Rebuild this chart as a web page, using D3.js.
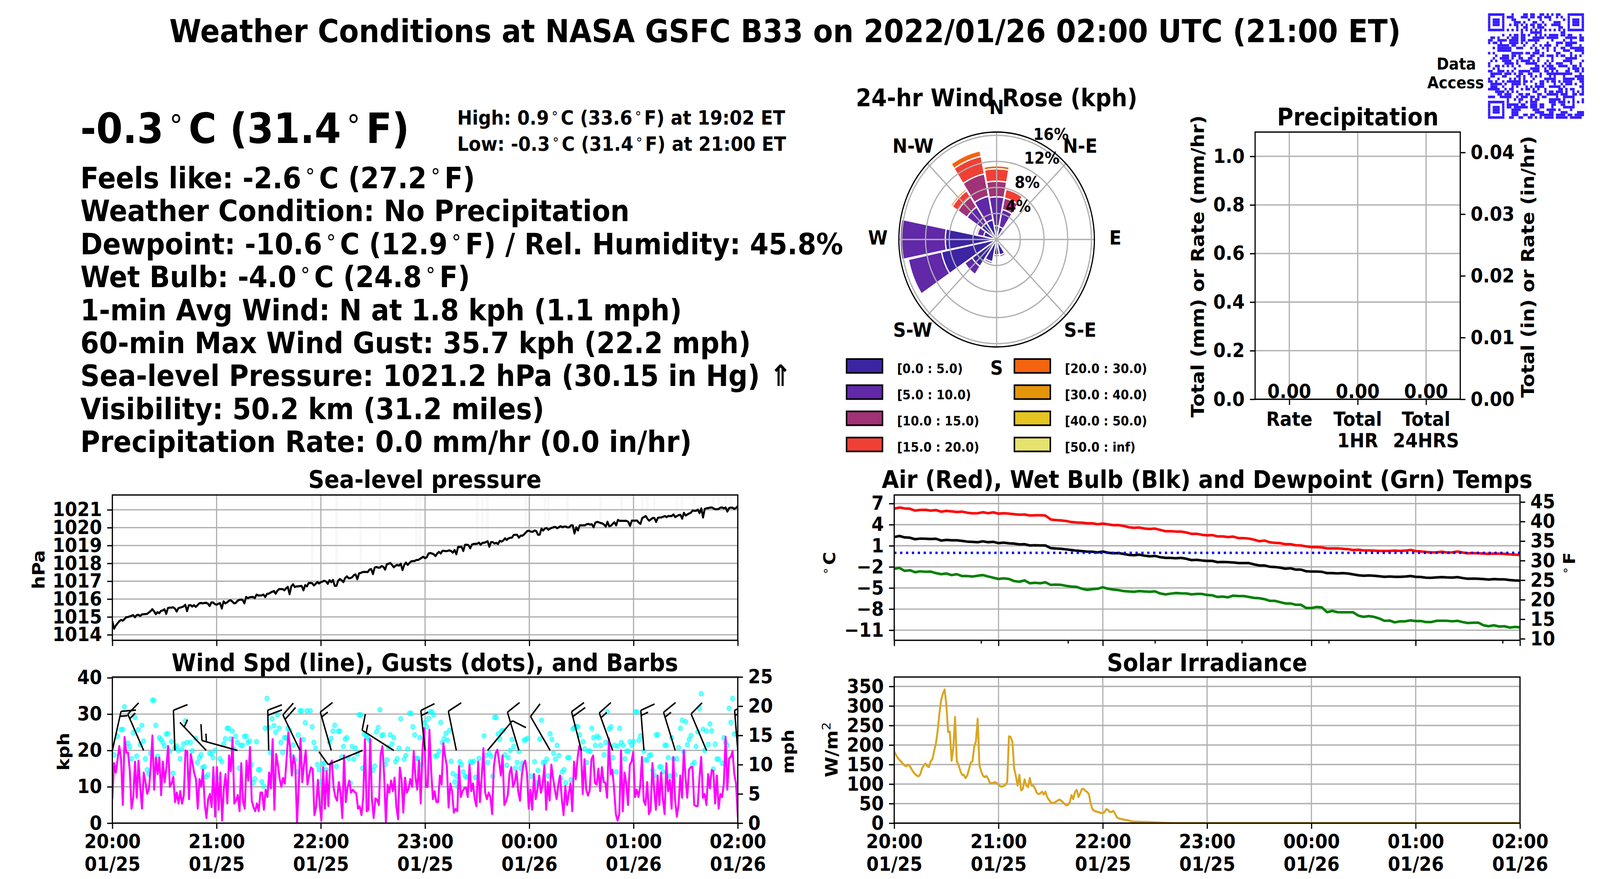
<!DOCTYPE html>
<html>
<head>
<meta charset="utf-8">
<script src="https://cdn.jsdelivr.net/npm/d3@7"></script>
<style>
  html, body { margin: 0; background: #fff; overflow: hidden; }
  svg { display: block; }
  text { font-family: "DejaVu Sans"; font-weight: bold; fill: #000; text-rendering: geometricPrecision; }
</style>
</head>
<body>
<div class="chart"></div>
<script>
// all values
const titleText = "Weather Conditions at NASA GSFC B33 on 2022/01/26 02:00 UTC (21:00 ET)";
const currentTemp = "-0.3°C (31.4°F)";
const highLow = ["High: 0.9°C (33.6°F) at 19:02 ET", "Low: -0.3°C (31.4°F) at 21:00 ET"];
const statusLines = [
  "Feels like: -2.6°C (27.2°F)",
  "Weather Condition: No Precipitation",
  "Dewpoint: -10.6°C (12.9°F) / Rel. Humidity: 45.8%",
  "Wet Bulb: -4.0°C (24.8°F)",
  "1-min Avg Wind: N at 1.8 kph (1.1 mph)",
  "60-min Max Wind Gust: 35.7 kph (22.2 mph)",
  "Sea-level Pressure: 1021.2 hPa (30.15 in Hg) ⇑",
  "Visibility: 50.2 km (31.2 miles)",
  "Precipitation Rate: 0.0 mm/hr (0.0 in/hr)"
];

// sea-level pressure, hPa, about one reading a minute
const pressure = [1014.77,1014.34,1014.52,1014.64,1014.76,1014.83,1014.79,1014.88,1014.99,1014.99,1015.03,1015.06,1015.10,1014.98,1015.10,1015.12,1015.05,1015.14,1015.15,1015.16,1015.17,1015.25,1015.32,1015.43,1015.32,1015.15,1015.27,1015.21,1015.34,1015.36,1015.43,1015.17,1015.50,1015.52,1015.52,1015.54,1015.47,1015.30,1015.49,1015.52,1015.55,1015.59,1015.68,1015.32,1015.65,1015.66,1015.58,1015.66,1015.56,1015.65,1015.76,1015.78,1015.76,1015.78,1015.79,1015.74,1015.61,1015.81,1015.81,1015.72,1015.68,1015.74,1015.77,1015.47,1015.87,1015.76,1015.81,1015.90,1015.94,1015.87,1015.76,1015.78,1015.90,1015.95,1015.97,1015.95,1015.76,1016.12,1016.05,1016.10,1016.11,1016.12,1016.05,1016.25,1016.20,1016.20,1016.21,1016.25,1016.11,1016.29,1016.30,1016.36,1016.41,1016.45,1016.30,1016.47,1016.56,1016.56,1016.56,1016.49,1016.60,1016.68,1016.27,1016.71,1016.83,1016.67,1016.71,1016.71,1016.73,1016.73,1016.49,1016.78,1016.71,1016.90,1016.90,1016.89,1016.76,1016.85,1016.96,1016.87,1016.95,1016.98,1017.03,1016.98,1016.85,1017.06,1016.95,1017.07,1016.74,1016.74,1017.03,1017.12,1017.05,1016.95,1017.18,1017.27,1017.17,1017.17,1017.22,1017.34,1017.38,1017.11,1017.44,1017.46,1017.51,1017.52,1017.52,1017.51,1017.65,1017.68,1017.40,1017.76,1017.80,1017.76,1017.76,1017.85,1017.80,1017.65,1017.95,1017.98,1018.02,
  1017.91,1017.78,1017.87,1017.91,1017.87,1017.98,1017.62,1017.91,1018.04,1017.91,1018.02,1018.11,1018.13,1018.13,1018.19,1018.19,1018.24,1018.31,1018.37,1018.29,1018.35,1018.55,1018.58,1018.55,1018.51,1018.41,1018.55,1018.64,1018.55,1018.70,1018.70,1018.68,1018.70,1018.73,1018.69,1018.60,1018.75,1018.51,1018.92,1018.92,1018.93,1018.69,1019.04,1019.04,1019.02,1018.84,1019.05,1019.09,1019.09,1019.10,1019.16,1019.04,1019.15,1019.15,1019.19,1019.24,1018.93,1019.19,1019.19,1019.11,1019.15,1019.08,1019.26,1019.22,1019.28,1019.40,1019.31,1019.40,1019.43,1019.44,1019.59,1019.60,1019.60,1019.44,1019.55,1019.55,1019.62,1019.73,1019.82,1019.82,1019.77,1019.77,1019.84,1019.81,1019.60,1019.61,1019.94,1019.84,1019.95,1019.98,1019.88,1019.95,1019.99,1020.02,1020.04,1019.97,1020.02,1020.08,1020.02,1020.06,1020.06,1020.01,1020.02,1020.13,1020.13,1019.67,1020.02,1019.84,1020.13,1020.13,1020.13,1020.13,1020.19,1020.21,1020.17,1020.19,1020.02,1020.28,1020.32,1020.30,1020.26,1020.24,1020.17,1020.06,1020.33,1020.08,1020.11,1020.21,1020.30,1020.13,1020.43,1020.38,1020.38,1020.38,1020.38,1020.38,1020.32,1020.10,1020.39,1020.39,1020.39,1020.40,1020.28,1020.21,1020.54,1020.59,1020.65,1020.50,1020.39,1020.46,1020.54,1020.54,1020.32,1020.55,1020.57,1020.57,1020.61,1020.65,1020.59,1020.65,1020.65,1020.65,1020.74,1020.59,1020.65,1020.70,1020.72,1020.50,1020.83,1020.68,1020.74,1020.79,1020.84,1020.96,1020.94,1020.94,1021.01,1020.81,1021.08,1020.57,1021.05,1021.08,1021.10,1021.12,1021.13,1021.08,1021.03,1021.03,1021.05,1021.12,1021.13,1021.08,1021.13,1020.90,1021.10,1021.12,1021.12,1021.05,1021.10,1021.21];
// minutes after 20:00 where faint grey streaks sit behind the pressure line
const pressureStreaks = [115,129,143,154,175,177,210,213,216,238,249,251,262,281,293,305,308,312,325,328,335,346,349,353,356];

// 1-min wind speed, kph
const windSpeed = [6.6,16.5,13.9,17.6,21.2,17.6,5,23.7,19.4,19.4,14.5,4,7,16.9,7,17.2,9.8,4,13.9,11.3,8.1,9.4,15.3,24.1,9.2,18,13.5,18,7.7,16.9,11.3,15.3,21.2,10,10.9,12.7,5.8,8.4,5.4,8.8,5.4,7.6,20,19.6,6.6,19,16.5,13.7,12.1,4,12.1,10,14.7,5.4,1.4,6.6,8,4.4,15.4,1.8,15.4,3.7,13.9,0.7,9.4,13.5,5.4,18.6,14.3,23.5,5.4,6.2,7.7,3.3,16.5,6,4,17.2,11.7,20.9,6.2,4.4,3.3,5.4,3.3,8.4,8.4,3.7,9.2,7.2,13.9,9.6,23.1,3.7,19,16.1,12.3,10,12.4,10.9,17.6,24.9,20.8,13.1,18.6,15.9,0.1,9.8,23.3,11.3,16.1,20,10.6,13.3,15.3,14.9,2.2,4.6,11.9,5,0.7,15.4,4,14.3,4.7,16.1,17.2,9.8,7.2,6.2,11.3,8.2,1.4,18.6,5.8,9.8,11.7,8.4,9.2,8.6,8.2,4,4.6,2.2,7,23.1,3.3,3.7,23.1,6.6,1.4,6.8,6.4,5,18.8,21.2,13.3,0.1,10.6,8.4,
  11.7,8.8,12.5,4.6,1.1,15.3,12.1,2.9,12.5,8.4,9.4,12.1,10,19.8,12.5,9.2,17.2,5.4,20,26.1,10,10,25.7,14.5,6.6,8.8,5.8,5.8,13.1,10.6,22,18.4,15.7,4.3,10.9,8.8,2.9,3.9,3.3,15.7,7.2,8.8,9.6,9.8,7.2,16.1,8.8,10.9,6.6,4.6,16.9,5.8,12.5,20.6,8.4,6.6,8.4,7.2,2.5,15.7,19.2,20.2,17,13.1,18.6,5,6,7.8,13.7,15.4,10,11.3,14.3,8.6,6.2,12.9,16.3,17.2,13.7,4,9.2,3.7,13.5,6.6,9.2,13.1,8.4,10.6,15.9,3.7,11.3,6.2,16.1,12.3,9.2,6.6,10.6,13.1,6.6,2.2,10.2,5,8.2,10.9,3.3,16.9,12.1,17.8,21.2,20,8,17.6,9.2,7.6,9,17.6,18.6,11.1,10.6,15,8.8,15.4,11.3,11.1,7,23.3,13.5,14.7,9.4,2.5,0.7,2.5,20,3.3,13.9,10.9,5,16,16.9,19.6,7.2,9.2,7.2,10.2,18.2,6.2,5,11.3,2.5,3.7,16.5,9,3.7,13.1,5,13.9,6.6,2.5,16.5,8.8,11.9,4,18.2,6.6,1.8,5,13.1,7,20,12.7,7,14.7,15.4,15.4,5,4.7,4.7,12.5,18.2,7,8,5,13.5,9.6,14.6,14.3,5.4,13.1,4,8,7.2,10.9,23.7,9.2,17.8,18.2,19.8,13.5,10.9,1.7];

// gust dots as [minute after 20:00, kph]
const gusts = [[1,18.8],[3,23.9],[5,25.7],[6,25.8],[7,32],[9,22],[10,21],[11,17.7],[12,24.9],[13,29.1],[14,18.4],[15,25.7],[16,21.6],[17,26.9],[18,22.6],[19,17.7],[20,14.7],[21,13.5],[22,19.2],[23,33.8],[24,33.8],[25,26.9],[26,18.4],[27,23.5],[28,23],[29,22.2],[30,21.2],[31,24.5],[32,24.6],[33,19.8],[34,22.4],[35,13.7],[36,20.8],[37,21.2],[38,20],[39,17.7],[40,20.4],[41,21.8],[42,28.1],[43,22.2],[45,22.2],[46,19.9],[48,23.3],[49,16.7],[50,18],[51,18.8],[52,15.3],[53,15.5],[54,12.7],[55,13.3],[56,19.2],[57,19.1],[58,18],[59,20],[60,12.5],[62,17.7],[63,16.9],[64,21.8],[65,23.2],[66,26.1],[67,26.1],[68,23.2],[69,25.3],[70,20.4],[71,23.9],[72,22.2],[73,15.1],[74,21.4],[75,21.4],[76,23.9],[77,23.9],[78,22.2],[79,22.6],[80,16.1],[81,11.1],[82,12.2],[83,22.4],[84,14.7],[85,14.7],[86,11.4],[87,10.2],[88,26.1],[89,34.3],[90,26.3],[91,19.4],[92,28.7],[93,26.8],[94,25],[95,29.8],[96,26.1],[97,22.2],[98,19.5],[99,23.5],[100,23.5],[101,26.1],[102,25.5],[103,18.4],[104,21.5],[105,17.4],[106,14.1],[107,24.3],[108,30.9],[109,30.9],[110,23],[111,27.6],[112,30.9],[114,30.9],[115,26.5],[116,22.2],[117,20.6],[118,16.1],[119,14.7],[120,11.3],[121,16.3],[122,16.5],[123,14.7],[125,22.2],[126,23.3],[127,25.3],[128,26.9],[129,15.6],[130,25.3],[131,25.3],[132,18.2],[133,21.1],[134,23.1],[135,23.5],[136,17.8],[137,11],[138,21.1],[139,17.6],[140,20.6],[141,19],[142,29.8],[143,29.8],[144,15.1],[145,24.5],[146,24.1],[147,23.5],[148,22.8],[150,14.5],[151,15.7],[152,25.1],[153,26.3],[154,31.2],[155,24.1],[156,24.3],[157,16.1],[158,17.4],[159,20.8],[160,24.3],
  [161,21.8],[162,23.5],[163,16.9],[164,17.7],[165,20.6],[166,28.7],[168,17.6],[169,18.6],[170,20.4],[171,30.2],[172,30.2],[173,26.5],[174,24.3],[175,17.8],[176,17.8],[177,23.5],[178,16.1],[180,27.7],[181,26.5],[182,28.8],[183,30.6],[184,30.6],[185,29.8],[186,18.4],[187,18.6],[188,19.8],[189,27.7],[190,22.2],[191,23.3],[192,24.7],[193,22.8],[194,25.5],[195,17],[196,13.6],[197,11.3],[198,12.9],[199,10],[200,16.9],[201,16.1],[202,14.1],[203,12.9],[204,12.7],[206,16.9],[207,16.7],[208,17],[209,12.6],[211,17.8],[214,24],[215,18.6],[216,16.7],[217,19.2],[218,18.4],[219,12.9],[220,29.1],[221,29.1],[222,24.5],[223,23.1],[224,25.3],[225,25.5],[226,18.8],[227,15.9],[228,18],[229,20],[230,23],[231,21.1],[232,15.1],[233,16.7],[234,19.7],[235,15.1],[236,16.5],[237,22.8],[238,23],[239,23.3],[241,12.9],[243,16.9],[244,11.1],[245,14.5],[246,23.1],[247,28.3],[248,16.7],[249,16.7],[250,17.6],[251,13],[252,24.6],[253,23],[254,19.2],[255,17.6],[256,21.4],[257,18.6],[258,12.3],[259,14.1],[260,14.7],[261,11.1],[262,18],[263,18],[264,11.9],[265,25.9],[266,26.3],[267,26.5],[268,26.5],[269,24.3],[271,22.4],[272,20.4],[273,16.7],[274,19.8],[275,19.8],[276,26.1],[277,23.5],[278,21.4],[279,23.9],[280,23.5],[281,21.4],[282,12.3],[283,18.8],[284,22.2],[285,30.6],[286,25.9],[287,26.5],[288,18],[289,21.4],[290,14.1],[291,21.2],[292,26.1],[293,22.2],[294,21.4],[295,17.7],[296,19.8],[297,19.8],[298,22.4],[299,21.4],[300,22.4],[301,30.6],[302,30.6],[303,22.8],[304,24],[306,19.8],[307,17.4],[308,17.4],[309,18.6],[310,18.8],[311,14.5],[312,13.1],[313,24.3],[314,24.3],[315,15.5],[316,15.5],[317,14.1],[318,21.4],[319,21.4],[320,18],[321,13],[322,23.5],[323,17.6],[324,13.3],[325,17.7],[326,20.8],[327,26.1],[328,28.3],[329,19.6],[330,27.9],[331,21.6],[332,23],[333,24.1],[334,16.1],[335,16.7],[336,21.1],[337,25.1],[338,31.6],[339,35.6],[340,25.8],[341,20],[342,25.3],[343,21.6],[344,27.3],[345,25.4],[346,14.9],[347,21.7],[348,17.6],[349,17.6],[351,16.5],[352,23.5],[353,22.2],[354,21.4],[355,31.6],[356,27.7],[357,34.3],[358,24.5]];

// barbs every 18 minutes: shaft angle from straight up (deg), full and half feathers
const barbAngle = [13.7,-25.6,-2.3,-45.8,-75.8,-1.5,-27.8,-17.4,-110.6,-59.8,-6.6,-12.6,42.5,-18.2,-32.4,-15.7,-21.5,-5,-18.6,-24.9,-5];
const barbFull  = [1,1,1,0,1,2,2,1,1,1,1,1,1,1,1,2,1,1,1,1,1];
const barbHalf  = [1,1,0,1,1,0,0,1,0,1,1,0,0,0,0,0,1,1,1,0,1];

// temperatures every 3 minutes, deg C
const airTemp = [6.26,6.44,6.31,6.26,6,6.09,6.11,6,6.07,5.85,5.96,5.89,5.81,5.85,5.7,5.61,5.63,5.76,5.63,5.75,5.57,5.63,5.57,5.48,5.41,5.44,5.3,5.33,5.33,5.3,4.74,4.65,4.59,4.52,4.37,4.3,4.28,4.19,4.19,4.06,4.15,4.04,3.93,3.94,3.81,3.63,3.56,3.59,3.44,3.39,3.44,3.26,3.07,3.07,3.02,3.02,2.89,2.7,2.7,2.56,2.48,2.52,2.33,2.33,2.24,2.3,2.09,2.09,2.02,1.87,1.65,1.74,1.5,1.41,1.37,1.22,1.22,1.07,1.04,0.91,0.81,0.81,0.76,0.63,0.63,0.63,0.57,0.52,0.39,0.43,0.33,0.33,0.3,0.26,0.26,0.26,0.3,0.26,0.3,0.41,0.24,0.19,0.11,0.06,0.07,0.15,0.04,0.06,0.19,0.04,-0.07,-0.04,-0.07,-0.11,-0.15,-0.11,-0.13,-0.15,-0.22,-0.26,-0.31];
const wetBulb = [2.24,2.39,2.19,2.15,1.93,2.02,2,1.96,2,1.74,1.83,1.78,1.78,1.69,1.59,1.56,1.5,1.63,1.5,1.56,1.37,1.44,1.35,1.31,1.19,1.22,1.04,1.07,1.04,1.04,0.67,0.61,0.57,0.48,0.39,0.3,0.24,0.17,0.15,0.06,0.17,0.02,-0.07,-0.04,-0.17,-0.3,-0.35,-0.26,-0.41,-0.5,-0.44,-0.63,-0.72,-0.72,-0.78,-0.72,-0.85,-1.04,-1,-1.09,-1.15,-1.15,-1.33,-1.31,-1.33,-1.37,-1.46,-1.46,-1.46,-1.65,-1.8,-1.8,-1.98,-2.02,-2.11,-2.26,-2.2,-2.39,-2.39,-2.63,-2.67,-2.67,-2.7,-2.89,-2.89,-2.93,-2.89,-2.94,-3.07,-3.19,-3.26,-3.22,-3.26,-3.33,-3.41,-3.37,-3.41,-3.41,-3.37,-3.3,-3.41,-3.44,-3.54,-3.56,-3.5,-3.46,-3.5,-3.52,-3.46,-3.59,-3.69,-3.67,-3.69,-3.74,-3.81,-3.74,-3.78,-3.78,-3.87,-3.93,-3.96];
const dewpoint = [-2.26,-2.15,-2.57,-2.48,-2.76,-2.63,-2.7,-2.67,-2.89,-3.04,-2.94,-3.17,-3.04,-3.31,-3.3,-3.37,-3.26,-3.17,-3.37,-3.54,-3.72,-3.63,-3.72,-4.02,-4.11,-3.93,-4.33,-4.26,-4.33,-4.19,-4.56,-4.52,-4.56,-4.7,-4.8,-4.85,-5.11,-5.26,-5.17,-5.11,-4.89,-5.11,-5.22,-5.31,-5.44,-5.5,-5.54,-5.44,-5.5,-5.54,-5.48,-5.78,-5.91,-5.81,-5.72,-5.76,-5.78,-5.91,-5.85,-5.85,-6,-6.04,-6.28,-6.22,-6.33,-6.09,-6.15,-6.15,-6.28,-6.41,-6.46,-6.59,-6.83,-6.83,-7.02,-7.2,-7.2,-7.39,-7.39,-7.85,-7.85,-7.7,-7.76,-8.44,-8.26,-8.44,-8.46,-8.46,-8.46,-8.93,-9.11,-9,-9.11,-9.33,-9.67,-9.63,-9.89,-9.74,-9.74,-9.61,-9.7,-9.7,-9.85,-9.85,-9.67,-9.67,-9.67,-9.74,-9.67,-9.85,-9.98,-9.94,-9.93,-10.3,-10.44,-10.3,-10.48,-10.44,-10.63,-10.54,-10.59];

// solar irradiance per minute until it fades out, W/m2
const solar = [183.8,174.6,167.3,161.9,157,152,147.2,146,149.8,146,138,130.8,125.3,121.7,119.8,125.3,140,147.2,152.7,146,143.6,158.2,164.4,185.6,203.9,236.8,280.6,315.3,331.8,342,302.5,233,234.2,160,192.9,271.5,158.2,149,134.5,123.5,123.5,115.5,121.7,138,154.5,158.2,194.7,209.4,267,149,132.6,121.7,118,120.6,114.4,103.4,101.6,103.4,104.5,102.3,97.9,94.3,93.5,95,97.9,105.2,222.1,220.3,207.5,140,119.8,96.1,123.5,84,87.7,111.8,96.1,92.4,115.5,96.1,96.1,88.8,77.8,74.2,76,80.4,73.4,80.4,66.9,59.6,54.1,51.2,52.2,54.8,57.7,60.3,57.7,54.1,48.6,46,46.8,54.1,71.6,61.4,79.7,85.1,66.9,76.7,87.7,87,82.6,79.7,74.2,50.4,35.8,31.4,30.3,28.5,27.8,25.6,25.6,28.5,35.8,34,28.5,28.5,31.4,24.8,15.7,12.1,11.3,10.2,9.1,8.4,7.3,6.6,5.1,4.4,4,3.8,3.6,3.4,3.3,3.1,3,2.9,2.8,2.6,2.4,2.2,2,1.8,1.6,1.4,1.2,1,0.8,0.6,0.4,0.2,0];

// 24-hr wind rose, percent of time per speed bin in each of 16 sectors clockwise from N
const roseBins = ["[0.0 : 5.0)","[5.0 : 10.0)","[10.0 : 15.0)","[15.0 : 20.0)","[20.0 : 30.0)","[30.0 : 40.0)","[40.0 : 50.0)","[50.0 : inf)"];
const roseColors = ["#3c24a2","#6128a8","#a03276","#f04036","#f4640f","#e59608","#e5c522","#e6e26e"];
const rose0to5   = [2.1,2.0,1.5,0,0,0,0,2.45,2.35,3.5,5.0,9.5,8.66,2.25,3.1,3.1];
const rose5to10  = [4.46,2.7,0.25,0,0,0,0,0.3,0.3,0.3,1.5,5.7,7.64,1.1,2.95,3.7];
const rose10to15 = [2.4,1.8,0,0,0,0,0,0,0,0,0,0,0,0.25,1.85,3.5];
const rose15to20 = [1.9,1.38,0,0,0,0,0,0,0,0,0,0,0,0,1.15,2.75];
const rose20to30 = [0.46,0.3,0,0,0,0,0,0,0,0,0,0,0,0,0.3,0.85];
const roseRings = [4,8,12,16];

const precipLabels = [["Rate"],["Total","1HR"],["Total","24HRS"]];
const precipValues = [0,0,0];

// QR modules as [first,last] column runs per row
const qrRuns = [
  [[0,6],[10,10],[15,16],[18,19],[22,23],[25,25],[27,27],[29,30],[34,40]],
  [[0,0],[6,6],[8,10],[14,16],[18,19],[21,22],[24,26],[29,29],[31,31],[34,34],[40,40]],
  [[0,0],[2,4],[6,6],[10,11],[17,17],[22,22],[26,26],[32,32],[34,34],[36,38],[40,40]],
  [[0,0],[2,4],[6,6],[11,13],[15,15],[19,20],[23,23],[28,30],[34,34],[36,38],[40,40]],
  [[0,0],[2,4],[6,6],[9,9],[11,12],[14,14],[16,16],[18,19],[21,22],[24,24],[27,30],[34,34],[36,38],[40,40]],
  [[0,0],[6,6],[12,12],[15,16],[19,19],[21,23],[30,31],[34,34],[40,40]],
  [[0,6],[8,8],[10,10],[12,12],[14,14],[16,16],[18,18],[20,20],[22,22],[24,24],[26,26],[28,28],[30,30],[32,32],[34,40]],
  [[14,14],[18,22],[31,32]],
  [[6,6],[9,9],[11,12],[14,15],[17,17],[20,20],[22,22],[24,24],[26,29],[31,32],[34,35],[39,39]],
  [[1,2],[4,4],[8,8],[10,12],[14,15],[19,23],[25,29],[33,37],[39,40]],
  [[0,1],[4,7],[9,12],[14,15],[17,21],[27,27],[32,32],[35,35],[39,40]],
  [[0,0],[2,3],[5,5],[9,12],[14,14],[16,16],[20,20],[25,25],[29,31],[33,37]],
  [[4,8],[10,11],[15,15],[19,19],[22,22],[24,26],[29,29],[33,35],[39,39]],
  [[2,2],[4,9],[12,14],[18,18],[20,20],[23,23],[25,25],[28,28],[31,32],[35,40]],
  [[4,9],[20,21],[25,25],[28,28],[32,34],[37,39],[40,40]],
  [[0,0],[2,2],[10,14],[16,17],[19,21],[23,23],[29,30],[35,35],[40,40]],
  [[3,3],[6,8],[10,11],[13,13],[18,19],[22,23],[25,27],[29,29],[31,32],[35,35],[37,37],[39,39]],
  [[2,2],[5,8],[10,10],[13,14],[17,18],[21,21],[27,27],[33,37]],
  [[1,1],[3,3],[6,9],[12,12],[14,17],[19,19],[21,21],[25,25],[27,27],[32,35],[40,40]],
  [[0,0],[7,10],[12,12],[16,20],[24,24],[26,26],[29,31],[35,35],[39,39]],
  [[0,0],[3,4],[6,6],[8,8],[10,10],[13,13],[20,21],[23,23],[25,27],[30,33],[36,37],[39,39]],
  [[2,2],[4,4],[11,11],[18,21],[24,24],[26,28],[34,34],[36,38],[40,40]],
  [[0,1],[4,6],[8,8],[10,10],[13,17],[19,21],[24,25],[27,27],[29,29],[33,34],[37,38],[40,40]],
  [[1,5],[7,9],[11,11],[13,14],[17,18],[22,22],[25,35],[39,39]],
  [[1,2],[6,7],[12,13],[15,15],[18,18],[20,20],[22,22],[26,26],[28,28],[32,32],[37,40]],
  [[0,0],[4,4],[9,9],[11,11],[13,13],[15,15],[19,19],[24,28],[32,36],[38,40]],
  [[0,1],[3,3],[6,6],[8,13],[15,16],[18,18],[22,23],[25,25],[27,28],[30,30],[32,35],[39,40]],
  [[1,5],[7,7],[10,13],[15,15],[20,20],[22,23],[28,28],[31,31],[33,35],[37,37],[40,40]],
  [[1,3],[6,6],[10,10],[12,12],[16,16],[18,18],[20,23],[26,30],[32,32],[39,40]],
  [[0,4],[7,7],[9,10],[14,14],[16,17],[19,19],[21,21],[24,24],[30,31],[33,33],[35,36],[40,40]],
  [[3,6],[8,8],[10,10],[12,12],[19,20],[24,24],[26,27],[29,31],[33,33],[36,36],[38,38],[40,40]],
  [[4,5],[7,9],[13,14],[16,17],[21,22],[25,29],[31,33],[36,37],[39,40]],
  [[0,2],[5,9],[12,12],[14,16],[18,19],[21,21],[23,24],[29,29],[32,36]],
  [[8,8],[11,11],[13,14],[18,18],[20,21],[26,30],[32,32],[36,36],[40,40]],
  [[0,6],[8,8],[13,13],[16,16],[18,20],[26,28],[30,32],[34,34],[36,36],[38,38],[40,40]],
  [[0,0],[6,6],[8,12],[14,15],[18,20],[22,23],[27,28],[31,32],[36,36]],
  [[0,0],[2,4],[6,6],[8,9],[11,16],[18,20],[22,23],[27,27],[32,36]],
  [[0,0],[2,4],[6,6],[10,13],[19,21],[25,28],[30,30],[35,35]],
  [[0,0],[2,4],[6,6],[10,12],[20,23],[26,27],[31,33],[38,40]],
  [[0,0],[6,6],[10,12],[15,16],[18,19],[22,27],[29,32],[34,35],[37,40]],
  [[0,6],[9,10],[13,14],[17,18],[20,20],[22,22],[24,27],[29,33],[35,39]]
];

// matplotlib at 300 dpi: 1pt = 4.17px
const LW = 5.4, GRID = 3.33, TICK = 14.6, FS = 50, TITLE = 62.5;
const gridColor = "#b0b0b0";
const startTime = Date.UTC(2022, 0, 25, 20);
const minuteToDate = m => new Date(startTime + m * 60000);
const hourTicks = d3.range(0, 7).map(h => minuteToDate(h * 60));

// the browser window can be narrower than 4500, so the drawing is fitted to it
const svg = d3.select(".chart").append("svg")
  .attr("viewBox", "0 0 4500 2250").attr("preserveAspectRatio", "none")
  .style("width", "100vw").style("height", "100vh");
svg.append("rect").attr("width", 4500).attr("height", 2250).attr("fill", "#fff");
const defs = svg.append("defs");

// text with the small raised degree ring used in the original
function addText(parent, str, x, y, size, anchor) {
  const t = parent.append("text").attr("x", x).attr("y", y).attr("font-size", size).attr("text-anchor", anchor || "start");
  const parts = str.split("°");
  parts.forEach((p, i) => {
    const sp = t.append("tspan").text(p);
    if (i > 0) sp.attr("dy", size * 0.36).attr("dx", size * 0.11);
    if (i < parts.length - 1) {
      t.append("tspan").text("∘").attr("font-size", size * 0.7).attr("font-weight", "normal")
        .attr("dy", -size * 0.36).attr("dx", size * 0.11);
    }
  });
  return t;
}
function rotText(parent, str, x, y, size) {
  return addText(parent, str, 0, 0, size, "middle").attr("transform", `translate(${x},${y}) rotate(-90)`);
}

function styleAxis(g) {
  g.select(".domain").remove();
  g.selectAll(".tick line").attr("stroke", "#000").attr("stroke-width", GRID);
  g.selectAll(".tick text").attr("font-size", FS).attr("fill", "#000").style("font-family", "DejaVu Sans").style("font-weight", "bold");
  return g;
}

function panel(id, x0, y0, x1, y1) {
  const g = svg.append("g");
  defs.append("clipPath").attr("id", id).append("rect").attr("x", x0).attr("y", y0).attr("width", x1 - x0).attr("height", y1 - y0);
  return { g, x0, y0, x1, y1, clip: `url(#${id})` };
}
function spines(p) {
  p.g.append("rect").attr("x", p.x0).attr("y", p.y0).attr("width", p.x1 - p.x0).attr("height", p.y1 - p.y0)
    .attr("fill", "none").attr("stroke", "#000").attr("stroke-width", GRID);
}
function hGrid(p, y, vals) {
  p.g.selectAll(null).data(vals).enter().append("line")
    .attr("x1", p.x0).attr("x2", p.x1).attr("y1", d => y(d)).attr("y2", d => y(d))
    .attr("stroke", gridColor).attr("stroke-width", GRID);
}
function vGrid(p, x, vals) {
  p.g.selectAll(null).data(vals).enter().append("line")
    .attr("y1", p.y0).attr("y2", p.y1).attr("x1", d => x(d)).attr("x2", d => x(d))
    .attr("stroke", gridColor).attr("stroke-width", GRID);
}
function timeAxis(p, x, labelled) {
  const axis = d3.axisBottom(x).tickValues(hourTicks).tickSize(TICK).tickPadding(14).tickFormat(labelled ? d3.utcFormat("%H:%M") : "");
  const g = p.g.append("g").attr("transform", `translate(0,${p.y1})`).call(axis);
  styleAxis(g);
  if (labelled) {
    g.selectAll(".tick text").each(function(d) {
      const t = d3.select(this).text(null);
      t.append("tspan").attr("x", 0).attr("y", 64).text(d3.utcFormat("%H:%M")(d));
      t.append("tspan").attr("x", 0).attr("y", 122).text(d3.utcFormat("%m/%d")(d));
    }).attr("dy", null);
  }
}
function yAxisLeft(p, y, vals, fmt) {
  const g = p.g.append("g").attr("transform", `translate(${p.x0},0)`)
    .call(d3.axisLeft(y).tickValues(vals).tickSize(TICK).tickPadding(14.6).tickFormat(fmt || d3.format("d")));
  styleAxis(g);
}
function yAxisRight(p, y, vals, fmt) {
  const g = p.g.append("g").attr("transform", `translate(${p.x1},0)`)
    .call(d3.axisRight(y).tickValues(vals).tickSize(TICK).tickPadding(14.6).tickFormat(fmt || d3.format("d")));
  styleAxis(g);
}
function drawLine(p, pts, x, y, color, width) {
  p.g.append("path").datum(pts).attr("clip-path", p.clip).attr("fill", "none")
    .attr("stroke", color).attr("stroke-width", width).attr("stroke-linejoin", "round")
    .attr("d", d3.line().x(d => x(d[0])).y(d => y(d[1])));
}
const evenly = arr => arr.map((v, i) => [minuteToDate(i * 360 / (arr.length - 1)), v]);

// header
addText(svg, titleText, 2208, 108, 81.4, "middle");
addText(svg, currentTemp, 226, 366, 107);
highLow.forEach((s, i) => addText(svg, s, 1286, [319, 386][i], 50.3));
statusLines.forEach((s, i) => addText(svg, s, 226, 482 + i * 84.4, 75.6));

// QR code + caption
addText(svg, "Data", 4096, 178, 41.7, "middle");
addText(svg, "Access", 4094, 226, 41.7, "middle");
const qrX = d3.scaleLinear().domain([0, 41]).range([4185, 4455]);
const qrY = d3.scaleLinear().domain([0, 41]).range([34, 304]);
qrRuns.forEach((runs, r) => {
  svg.append("g").selectAll("rect").data(runs).enter().append("rect")
    .attr("x", d => qrX(d[0])).attr("y", qrY(r))
    .attr("width", d => qrX(d[1] + 1) - qrX(d[0])).attr("height", qrY(r + 1) - qrY(r))
    .attr("fill", "#351eff");
});

// ---- sea-level pressure
const pP = panel("clipP", 316, 1267, 2075, 1639);
const xP = d3.scaleUtc().domain([minuteToDate(0), minuteToDate(360)]).range([pP.x0, pP.x1]);
const yP = d3.scaleLinear().domain([1013.69, 1021.83]).range([pP.y1, pP.y0]);
const pressureTicks = d3.range(1014, 1022);
pP.g.selectAll(null).data(pressureStreaks).enter().append("line")
  .attr("x1", d => xP(minuteToDate(d))).attr("x2", d => xP(minuteToDate(d)))
  .attr("y1", pP.y0).attr("y2", d => yP(pressure[d]))
  .attr("stroke", "#f8f8f8").attr("stroke-width", 7);
hGrid(pP, yP, pressureTicks);
vGrid(pP, xP, hourTicks);
drawLine(pP, evenly(pressure), xP, yP, "#000", LW);
spines(pP);
timeAxis(pP, xP, false);
yAxisLeft(pP, yP, pressureTicks);
addText(svg, "Sea-level pressure", 1195, 1249, TITLE, "middle");
rotText(svg, "hPa", 125, 1458, 48);

// ---- wind
const pW = panel("clipW", 316, 1733, 2075, 2107);
const xW = xP.copy().range([pW.x0, pW.x1]);
const yW = d3.scaleLinear().domain([0, 40.2]).range([pW.y1, pW.y0]);
const yWmph = d3.scaleLinear().domain([0, 40.2 / 1.609]).range([pW.y1, pW.y0]);
const windTicks = [0, 10, 20, 30, 40];
hGrid(pW, yW, windTicks);
vGrid(pW, xW, hourTicks);
pW.g.selectAll(null).data(gusts).enter().append("circle")
  .attr("cx", d => xW(minuteToDate(d[0]))).attr("cy", d => yW(d[1])).attr("r", 5.5)
  .attr("fill", "cyan").attr("fill-opacity", 0.5)
  .attr("stroke", "cyan").attr("stroke-opacity", 0.5).attr("stroke-width", 4);
drawLine(pW, evenly(windSpeed), xW, yW, "#ff00ff", LW);

// barbs: all sit at the 20 kph level
const BARB_LEN = 103, FEATHER = 40, FEATHER_UP = 12.9, BARB_GAP = 13;
const barbPath = (angle, full, half, k) => {
  const bx = xW(minuteToDate(k * 18)), by = yW(20);
  const a = angle * Math.PI / 180;
  const ux = Math.sin(a), uy = -Math.cos(a);
  const px = Math.cos(a), py = Math.sin(a);
  const tx = bx + ux * BARB_LEN, ty = by + uy * BARB_LEN;
  let d = `M${bx},${by}L${tx},${ty}`;
  for (let i = 0; i < full; i++) {
    const sx = tx - ux * BARB_GAP * i, sy = ty - uy * BARB_GAP * i;
    d += `M${sx},${sy}L${sx + px * FEATHER + ux * FEATHER_UP},${sy + py * FEATHER + uy * FEATHER_UP}`;
  }
  if (half) {
    const i = full > 0 ? full : 1.3;
    const sx = tx - ux * BARB_GAP * i, sy = ty - uy * BARB_GAP * i;
    d += `M${sx},${sy}L${sx + px * FEATHER / 2 + ux * FEATHER_UP / 2},${sy + py * FEATHER / 2 + uy * FEATHER_UP / 2}`;
  }
  return d;
};
pW.g.selectAll(null).data(barbAngle).enter().append("path")
  .attr("clip-path", pW.clip).attr("fill", "none").attr("stroke", "#000").attr("stroke-width", 4)
  .attr("d", (d, i) => barbPath(d, barbFull[i], barbHalf[i], i));
spines(pW);
timeAxis(pW, xW, true);
yAxisLeft(pW, yW, windTicks);
yAxisRight(pW, yWmph, [0, 5, 10, 15, 20, 25]);
addText(svg, "Wind Spd (line), Gusts (dots), and Barbs", 1195, 1718, TITLE, "middle");
rotText(svg, "kph", 195, 1924, 46);
rotText(svg, "mph", 2232, 1924, 46);

// ---- temperatures
const pT = panel("clipT", 2515, 1267, 4275, 1639);
const xT = xP.copy().range([pT.x0, pT.x1]);
const yT = d3.scaleLinear().domain([-12.44, 8.22]).range([pT.y1, pT.y0]);
const yTf = d3.scaleLinear().domain([-12.44 * 1.8 + 32, 8.22 * 1.8 + 32]).range([pT.y1, pT.y0]);
const tempTicks = [7, 4, 1, -2, -5, -8, -11];
hGrid(pT, yT, tempTicks);
vGrid(pT, xT, hourTicks);
const threeMin = arr => arr.map((v, i) => [minuteToDate(i * 3), v]);
drawLine(pT, threeMin(airTemp), xT, yT, "#ff0000", 6.5);
drawLine(pT, threeMin(wetBulb), xT, yT, "#000", 6.5);
drawLine(pT, threeMin(dewpoint), xT, yT, "#008000", 6.5);
pT.g.append("line").attr("x1", pT.x0).attr("x2", pT.x1).attr("y1", yT(0)).attr("y2", yT(0))
  .attr("stroke", "#0000ff").attr("stroke-width", 6.25).attr("stroke-dasharray", "6.25 10.3");
spines(pT);
timeAxis(pT, xT, false);
// the short extra ticks come from a second time axis every 50 minutes
styleAxis(pT.g.append("g").attr("transform", `translate(0,${pT.y1})`)
  .call(d3.axisBottom(xT).tickValues(d3.range(0, 351, 50).map(minuteToDate)).tickSize(8.3).tickFormat("")));
yAxisLeft(pT, yT, tempTicks);
yAxisRight(pT, yTf, d3.range(10, 46, 5));
addText(svg, "Air (Red), Wet Bulb (Blk) and Dewpoint (Grn) Temps", 3395, 1249, TITLE, "middle");
rotText(svg, "°C", 2349, 1447, 46);
rotText(svg, "°F", 4430, 1447, 46);

// ---- solar
const pS = panel("clipS", 2515, 1733, 4275, 2107);
const xS = xP.copy().range([pS.x0, pS.x1]);
const yS = d3.scaleLinear().domain([0, 374]).range([pS.y1, pS.y0]);
const solarTicks = d3.range(0, 351, 50);
hGrid(pS, yS, solarTicks);
vGrid(pS, xS, hourTicks);
drawLine(pS, solar.map((v, i) => [minuteToDate(i), v]).concat([[minuteToDate(360), 0]]), xS, yS, "#daa520", LW);
spines(pS);
timeAxis(pS, xS, true);
yAxisLeft(pS, yS, solarTicks);
addText(svg, "Solar Irradiance", 3395, 1718, TITLE, "middle");
const wm = rotText(svg, "W/m", 2356, 1919, 48);
wm.append("tspan").text("2").attr("font-size", 33).attr("font-weight", "normal").attr("dy", -20);

// ---- wind rose
const rose = svg.append("g").attr("transform", "translate(2803,613)");
const rScale = d3.scaleLinear().domain([0, 16.5]).range([0, 275]);
const roseSeries = [rose0to5, rose5to10, rose10to15, rose15to20, rose20to30];
const halfWidth = 10.9 * Math.PI / 180;
const arc = d3.arc();
roseSeries.forEach((vals, b) => {
  const seg = vals.map((v, s) => {
    const below = d3.sum(roseSeries.slice(0, b), r => r[s]);
    return { s, inner: below, outer: below + v };
  }).filter(d => d.outer > d.inner);
  rose.selectAll(null).data(seg).enter().append("path")
    .attr("fill", roseColors[b]).attr("stroke", "#fff").attr("stroke-width", 3.5)
    .attr("d", d => arc({
      innerRadius: rScale(d.inner), outerRadius: rScale(d.outer),
      startAngle: d.s * Math.PI / 8 - halfWidth, endAngle: d.s * Math.PI / 8 + halfWidth
    }));
});
rose.selectAll(null).data(roseRings).enter().append("circle").attr("r", d => rScale(d))
  .attr("fill", "none").attr("stroke", gridColor).attr("stroke-width", GRID);
rose.selectAll(null).data(d3.range(0, 360, 45)).enter().append("line")
  .attr("x2", d => Math.sin(d * Math.PI / 180) * rScale(16.5))
  .attr("y2", d => -Math.cos(d * Math.PI / 180) * rScale(16.5))
  .attr("stroke", gridColor).attr("stroke-width", GRID);
rose.append("circle").attr("r", rScale(16.5)).attr("fill", "none").attr("stroke", "#000").attr("stroke-width", GRID);
addText(svg, "24-hr Wind Rose (kph)", 2803, 272, TITLE, "middle");
[["N",2803,292],["N-E",3038,391],["E",3137,626],["S-E",3038,862],["S",2803,959],["S-W",2567,862],["W",2469,626],["N-W",2568,391]]
  .forEach(d => addText(svg, d[0], d[1], d[2], FS, "middle"));
[["4%",2864,542],["8%",2889,481],["12%",2930,419],["16%",2956,358]]
  .forEach(d => addText(svg, d[0], d[1], d[2], 41.7, "middle"));
roseBins.forEach((b, i) => {
  const col = Math.floor(i / 4), row = i % 4;
  svg.append("rect").attr("x", [2381, 2853][col]).attr("y", 919 + row * 67)
    .attr("width", 101).attr("height", 35.5).attr("fill", roseColors[i]).attr("stroke", "#000").attr("stroke-width", 4.2);
  addText(svg, b, [2523, 2995][col], 954.5 + row * 67, 33.3);
});

// ---- precipitation
const pR = panel("clipR", 3530, 338, 4107, 1022);
const xR = d3.scalePoint().domain([0, 1, 2]).range([pR.x0, pR.x1]).padding(0.5);
const yR = d3.scaleLinear().domain([0, 1.1]).range([pR.y1, pR.y0]);
const yRin = d3.scaleLinear().domain([0, 1.1 / 25.4]).range([pR.y1, pR.y0]);
const precipTicks = [0, 0.2, 0.4, 0.6, 0.8, 1.0];
hGrid(pR, yR, precipTicks);
vGrid(pR, xR, [0, 1, 2]);
pR.g.selectAll(null).data(precipValues).enter().append("rect")
  .attr("x", (d, i) => xR(i) - 80).attr("width", 160).attr("y", d => yR(d)).attr("height", d => yR(0) - yR(d)).attr("fill", "#1f77b4");
spines(pR);
styleAxis(pR.g.append("g").attr("transform", `translate(0,${pR.y1})`)
  .call(d3.axisBottom(xR).tickSize(TICK).tickFormat("")));
yAxisLeft(pR, yR, precipTicks, d3.format(".1f"));
yAxisRight(pR, yRin, [0, 0.01, 0.02, 0.03, 0.04], d3.format(".2f"));
precipValues.forEach((v, i) => addText(svg, d3.format(".2f")(v), xR(i), 1019, FS, "middle"));
precipLabels.forEach((lines, i) => lines.forEach((s, j) => addText(svg, s, xR(i), 1090 + j * 55, FS, "middle")));
addText(svg, "Precipitation", 3819, 321, TITLE, "middle");
rotText(svg, "Total (mm) or Rate (mm/hr)", 3386, 682, 50);
rotText(svg, "Total (in) or Rate (in/hr)", 4314, 683, 50);
</script>
</body>
</html>
